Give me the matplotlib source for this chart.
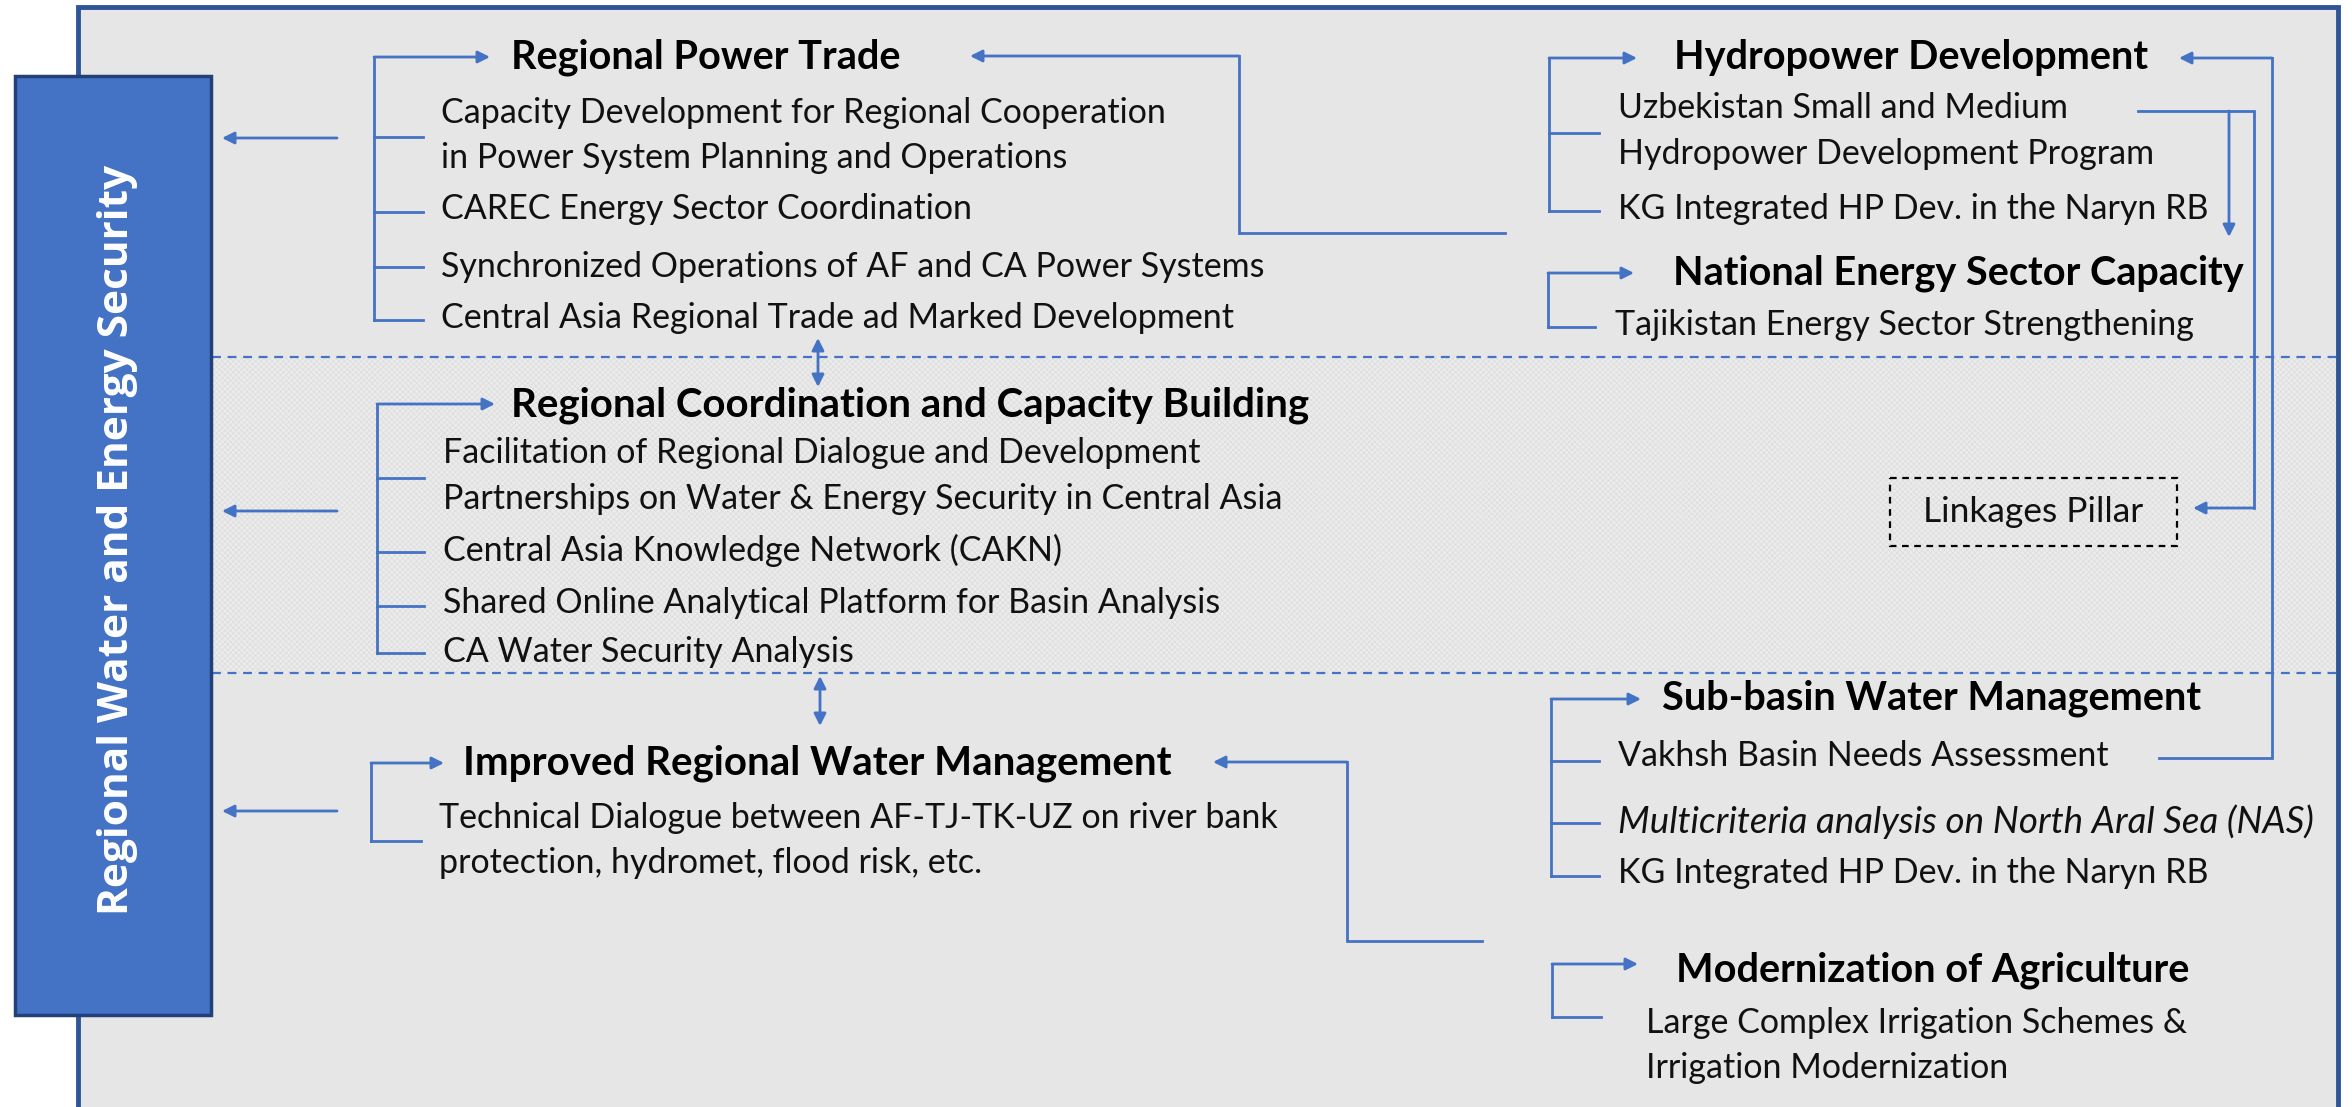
import matplotlib.pyplot as plt
from matplotlib.patches import Rectangle

W, H = 2352, 1107
BLUE = "#4472C4"
DARK = "#2F5597"
BODY = "Lato"

pillar_title = "Regional Water and Energy Security"

power_title = "Regional Power Trade"
power_lines = ["Capacity Development for Regional Cooperation",
               "in Power System Planning and Operations",
               "CAREC Energy Sector Coordination",
               "Synchronized Operations of AF and CA Power Systems",
               "Central Asia Regional Trade ad Marked Development"]

coord_title = "Regional Coordination and Capacity Building"
coord_lines = ["Facilitation of Regional Dialogue and Development",
               "Partnerships on Water & Energy Security in Central Asia",
               "Central Asia Knowledge Network (CAKN)",
               "Shared Online Analytical Platform for Basin Analysis",
               "CA Water Security Analysis"]

water_title = "Improved Regional Water Management"
water_lines = ["Technical Dialogue between AF-TJ-TK-UZ on river bank",
               "protection, hydromet, flood risk, etc."]

hydro_title = "Hydropower Development"
hydro_lines = ["Uzbekistan Small and Medium",
               "Hydropower Development Program",
               "KG Integrated HP Dev. in the Naryn RB"]

national_title = "National Energy Sector Capacity"
national_lines = ["Tajikistan Energy Sector Strengthening"]

subbasin_title = "Sub-basin Water Management"
subbasin_lines = ["Vakhsh Basin Needs Assessment",
                  "Multicriteria analysis on North Aral Sea (NAS)",
                  "KG Integrated HP Dev. in the Naryn RB"]

agri_title = "Modernization of Agriculture"
agri_lines = ["Large Complex Irrigation Schemes &",
              "Irrigation Modernization"]

linkage_label = "Linkages Pillar"

fig = plt.figure(figsize=(W / 100, H / 100), dpi=100)
ax = fig.add_axes([0, 0, 1, 1])
ax.set_xlim(0, W)
ax.set_ylim(H, 0)
ax.axis("off")

# frame, band and pillar box
ax.add_patch(Rectangle((78, 7), 2260, 1200, facecolor="#E6E6E6", edgecolor=DARK, lw=3.5, zorder=1))
plt.rcParams["hatch.linewidth"] = 0.4
ax.add_patch(Rectangle((212, 357), 2124, 316, facecolor="#EBEBEB", edgecolor="#DADADA",
                       hatch="xxxxxx", lw=0, zorder=1.5))
for yy in (357, 673):
    ax.plot([212, 2336], [yy, yy], color=BLUE, lw=1.6, ls=(0, (4, 3)), zorder=2)
ax.add_patch(Rectangle((15, 76), 196, 939, facecolor=BLUE, edgecolor="#22407A", lw=2.5, zorder=3))
ax.text(118, 540, pillar_title, rotation=90, color="white", fontsize=30.5, fontweight="bold",
        family="Open Sans", ha="center", va="center", zorder=4)


def arrow(pts, style="-|>"):
    if len(pts) > 2:
        ax.plot([p[0] for p in pts[:-1]], [p[1] for p in pts[:-1]], color=BLUE, lw=2,
                solid_joinstyle="miter", zorder=3)
    ax.annotate("", xy=pts[-1], xytext=pts[-2],
                arrowprops=dict(arrowstyle=style, color=BLUE, lw=2, mutation_scale=18,
                                shrinkA=0, shrinkB=0), zorder=3)


def bracket(x, y_top, tip, ticks, tick_end):
    ax.plot([x, x], [y_top, ticks[-1]], color=BLUE, lw=2, zorder=3)
    for t in ticks:
        ax.plot([x, tick_end], [t, t], color=BLUE, lw=2, zorder=3)
    arrow([(x, y_top), (tip, y_top)])


def block(title, tx, ty, lines, lx, ly, tsize=28.5, sizes=None, italic=()):
    ax.text(tx, ty, title, fontsize=tsize, fontweight="bold", family=BODY, ha="left",
            va="center", color="black", zorder=4)
    sizes = sizes or [24.5] * len(lines)
    for i, (s, y) in enumerate(zip(lines, ly)):
        ax.text(lx, y, s, fontsize=sizes[i], family=BODY, ha="left", va="center",
                style="italic" if i in italic else "normal", color="#111111", zorder=4)


# left column
block(power_title, 511, 57, power_lines, 441, [113, 158, 209, 267, 318])
bracket(374, 57, 490, [137, 212, 267, 320], 423)
block(coord_title, 511, 405, coord_lines, 443, [453, 499, 550, 603, 652], tsize=29)
bracket(377, 404, 495, [478, 552, 606, 653], 424)
block(water_title, 463, 763, water_lines, 439, [818, 863], tsize=29)
bracket(371, 763, 444, [841], 421)

for y in (138, 511, 811):
    arrow([(337, y), (222, y)])
arrow([(818, 338), (818, 387)], "<|-|>")
arrow([(820, 676), (820, 726)], "<|-|>")

# right column
block(hydro_title, 1674, 58, hydro_lines, 1618, [108, 154, 209])
bracket(1549, 58, 1637, [133, 211], 1599)
block(national_title, 1673, 273, national_lines, 1615, [325])
bracket(1548, 273, 1634, [327], 1595)
block(subbasin_title, 1662, 698, subbasin_lines, 1618, [756, 822, 873],
      sizes=[24.5, 26.5, 24.5], italic=(1,))
bracket(1551, 699, 1641, [761, 823, 876], 1599)
block(agri_title, 1676, 970, agri_lines, 1646, [1023, 1068])
bracket(1552, 964, 1638, [1017], 1601)

# linkages
ax.add_patch(Rectangle((1890, 478), 287, 68, facecolor="none", edgecolor="black", lw=1.6,
                       ls=(0, (3, 2.5)), zorder=4))
ax.text(2033, 512, linkage_label, fontsize=25.5, family=BODY, ha="center", va="center",
        color="#111111", zorder=4)
arrow([(1505, 233), (1239, 233), (1239, 56), (970, 56)])
arrow([(1482, 941), (1347, 941), (1347, 762), (1213, 762)])
arrow([(2159, 758), (2272, 758), (2272, 58), (2179, 58)])
arrow([(2138, 111), (2254, 111), (2254, 508), (2193, 508)])
arrow([(2229, 111), (2229, 237)])

fig.savefig("out.png", dpi=100, facecolor="white")
